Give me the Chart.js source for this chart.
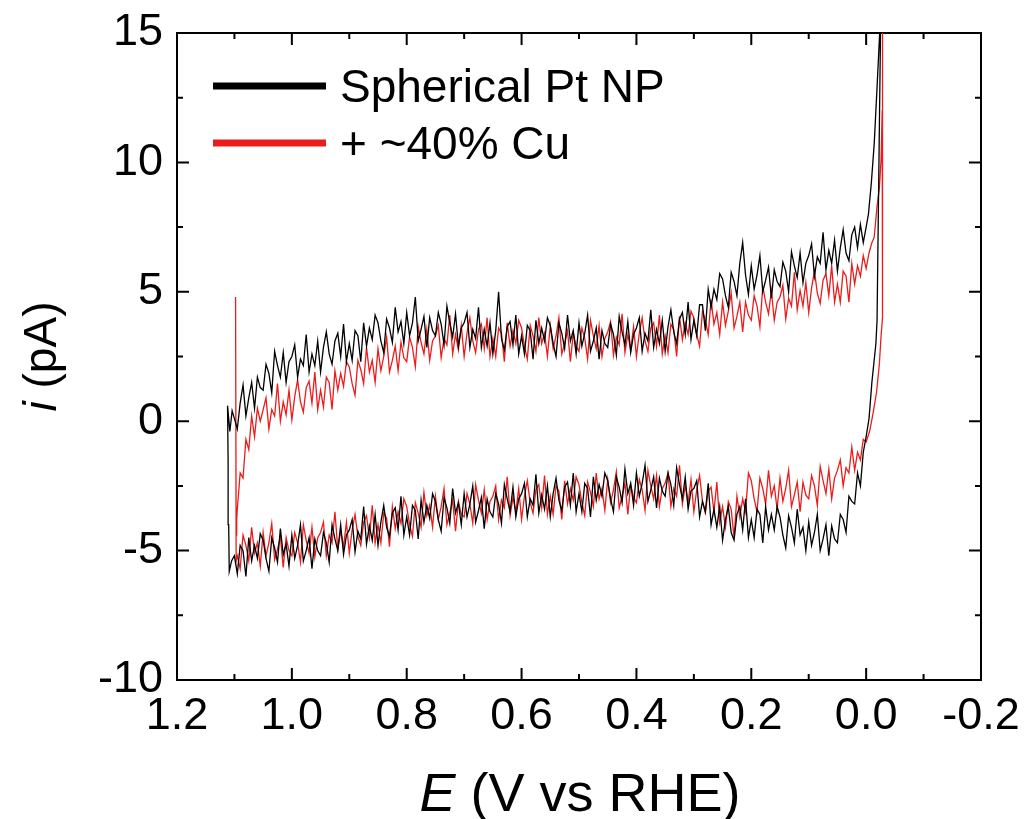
<!DOCTYPE html>
<html>
<head>
<meta charset="utf-8">
<script src="https://cdn.jsdelivr.net/npm/chart.js@4.4.0/dist/chart.umd.min.js"></script>
<style>
  html, body { margin: 0; padding: 0; background: #fff; }
  canvas { display: block; }
</style>
</head>
<body>
<canvas id="cvChart" width="1024" height="819"></canvas>
<script>
// potential grid (V vs RHE), shared by both sweeps
const potential = [
  1.100,1.095,1.090,1.085,1.080,1.075,1.070,1.065,1.060,1.055,
  1.050,1.045,1.040,1.035,1.030,1.025,1.020,1.015,1.010,1.005,
  1.000,0.995,0.990,0.985,0.980,0.975,0.970,0.965,0.960,0.955,
  0.950,0.945,0.940,0.935,0.930,0.925,0.920,0.915,0.910,0.905,
  0.900,0.895,0.890,0.885,0.880,0.875,0.870,0.865,0.860,0.855,
  0.850,0.845,0.840,0.835,0.830,0.825,0.820,0.815,0.810,0.805,
  0.800,0.795,0.790,0.785,0.780,0.775,0.770,0.765,0.760,0.755,
  0.750,0.745,0.740,0.735,0.730,0.725,0.720,0.715,0.710,0.705,
  0.700,0.695,0.690,0.685,0.680,0.675,0.670,0.665,0.660,0.655,
  0.650,0.645,0.640,0.635,0.630,0.625,0.620,0.615,0.610,0.605,
  0.600,0.595,0.590,0.585,0.580,0.575,0.570,0.565,0.560,0.555,
  0.550,0.545,0.540,0.535,0.530,0.525,0.520,0.515,0.510,0.505,
  0.500,0.495,0.490,0.485,0.480,0.475,0.470,0.465,0.460,0.455,
  0.450,0.445,0.440,0.435,0.430,0.425,0.420,0.415,0.410,0.405,
  0.400,0.395,0.390,0.385,0.380,0.375,0.370,0.365,0.360,0.355,
  0.350,0.345,0.340,0.335,0.330,0.325,0.320,0.315,0.310,0.305,
  0.300,0.295,0.290,0.285,0.280,0.275,0.270,0.265,0.260,0.255,
  0.250,0.245,0.240,0.235,0.230,0.225,0.220,0.215,0.210,0.205,
  0.200,0.195,0.190,0.185,0.180,0.175,0.170,0.165,0.160,0.155,
  0.150,0.145,0.140,0.135,0.130,0.125,0.120,0.115,0.110,0.105,
  0.100,0.095,0.090,0.085,0.080,0.075,0.070,0.065,0.060,0.055,
  0.050,0.045,0.040,0.035,0.030,0.025,0.020,0.015,0.010,0.005,0.000
];

// Spherical Pt NP, upper sweep (pA), same order as potential
const ptUpper = [
  0.1,-0.3,0.7,1.4,0.2,0.9,1.5,0.5,1.7,1.3,
  1.2,2.2,1.85,1.1,2.7,2.15,1.7,2.65,1.5,2.3,
  2.5,2.95,1.7,2.4,2.15,3.35,1.9,2.6,2.15,3.1,
  1.9,2.85,3.45,2.6,2.2,3.1,3.4,2.5,3.75,2.3,
  3.0,2.35,3.5,3.3,2.3,3.8,2.9,3.6,3.15,4.1,
  3.8,3.1,2.65,3.95,3.6,3.05,4.4,3.45,3.85,3.0,
  4.2,3.3,3.8,4.8,3.1,3.55,4.05,2.85,4.0,3.5,
  3.3,4.2,3.75,2.95,4.45,3.8,3.25,4.15,2.9,3.6,
  3.8,4.2,2.85,3.55,3.2,4.4,2.85,3.55,2.9,3.8,
  2.6,3.5,5.0,3.2,2.75,3.65,3.85,2.95,4.1,2.6,
  3.3,2.6,3.7,3.5,2.4,3.9,3.0,3.6,3.1,4.0,
  3.7,3.0,2.5,3.8,3.4,2.8,4.1,3.1,3.5,2.6,
  3.8,2.9,3.4,4.1,2.7,3.1,3.6,2.4,3.5,3.0,
  2.85,3.75,3.35,2.55,4.05,3.45,2.95,3.85,2.65,3.35,
  3.6,4.0,2.7,3.4,3.1,4.3,2.85,3.55,3.0,3.9,
  2.7,3.65,4.3,3.45,3.0,3.95,4.2,3.35,4.6,3.15,
  3.9,3.3,4.5,4.5,3.5,5.1,4.4,5.1,4.7,5.7,
  5.5,4.85,4.4,5.75,5.4,4.85,6.1,6.9,5.65,4.9,
  6.0,5.1,5.65,6.4,5.0,5.45,5.95,4.75,5.85,5.4,
  5.2,6.15,5.8,5.0,6.55,6.0,5.55,6.5,5.35,6.1,
  6.4,6.85,5.6,6.35,6.1,7.3,5.85,6.6,6.1,7.0,
  5.8,6.7,7.4,6.5,6.2,7.2,7.5,6.7,7.6,6.9,7.5
];

// Spherical Pt NP, lower sweep (pA), same order as potential
const ptLower = [
  -5.2,-5.9,-4.8,-5.0,-6.0,-4.5,-5.4,-4.8,-5.3,-4.35,
  -4.6,-5.3,-5.8,-4.5,-4.9,-5.45,-4.15,-5.15,-4.75,-5.6,
  -4.4,-5.3,-4.8,-4.0,-5.4,-5.0,-4.5,-5.7,-4.55,-5.0,
  -5.2,-4.3,-4.7,-5.45,-4.0,-4.55,-5.0,-4.0,-5.15,-4.4,
  -4.2,-3.8,-5.05,-4.25,-4.55,-3.3,-4.75,-4.05,-4.6,-3.6,
  -4.8,-3.9,-3.25,-4.1,-4.45,-3.55,-3.35,-4.2,-2.9,-4.4,
  -3.7,-4.4,-3.25,-3.45,-4.55,-3.05,-3.9,-3.25,-3.75,-2.8,
  -3.1,-3.8,-4.25,-2.95,-3.35,-3.95,-2.6,-3.55,-3.15,-4.0,
  -2.8,-3.7,-3.2,-2.5,-3.9,-3.45,-2.95,-4.15,-3.0,-3.5,
  -3.7,-2.8,-3.2,-3.95,-2.45,-3.0,-3.5,-2.55,-3.7,-3.0,
  -2.8,-2.4,-3.7,-3.0,-3.25,-2.05,-3.55,-2.85,-3.4,-2.5,
  -3.7,-2.8,-2.2,-3.05,-3.45,-2.55,-2.35,-3.25,-2.0,-3.5,
  -2.8,-3.5,-2.4,-2.6,-3.7,-2.15,-3.05,-2.45,-2.9,-2.0,
  -2.3,-3.0,-3.5,-2.15,-2.55,-3.15,-1.85,-2.8,-2.4,-3.25,
  -2.0,-2.9,-2.4,-1.7,-3.1,-2.65,-2.15,-3.35,-2.2,-2.7,
  -2.9,-2.0,-2.45,-3.25,-1.8,-2.45,-3.0,-2.15,-3.4,-2.7,
  -2.6,-2.3,-3.7,-3.1,-3.5,-2.4,-4.0,-3.4,-4.1,-3.3,
  -4.6,-3.8,-3.3,-4.3,-4.6,-3.6,-3.3,-4.2,-3.0,-4.5,
  -3.8,-4.5,-3.4,-3.6,-4.7,-3.3,-4.2,-3.6,-4.2,-3.3,
  -3.7,-4.4,-4.9,-3.65,-4.1,-4.7,-3.4,-4.4,-4.1,-5.0,
  -3.9,-4.8,-4.3,-3.6,-5.0,-4.55,-4.0,-5.2,-4.05,-4.55,
  -4.7,-3.6,-3.8,-4.3,-2.9,-3.1,-3.2,-2.0,-2.5,-1.2,-0.6
];

// + ~40% Cu, upper sweep (pA)
const cuUpper = [
  null,-3.4,-2.0,-2.2,-0.7,-1.1,0.2,-0.6,0.5,0.0,
  0.45,0.9,-0.3,0.45,0.2,1.45,0.0,0.75,0.25,1.2,
  0.05,0.95,1.6,0.75,0.35,1.3,1.55,0.7,1.9,0.45,
  1.2,0.55,1.7,1.5,0.45,1.95,1.2,1.85,1.35,2.3,
  2.1,1.45,1.0,2.35,2.0,1.45,2.85,1.9,2.35,1.5,
  2.8,1.95,2.5,3.25,1.9,2.35,2.9,1.95,3.05,2.45,
  2.3,3.25,2.85,2.1,3.65,3.05,2.6,3.55,2.35,3.1,
  3.3,3.7,2.45,3.2,2.95,4.1,2.6,3.35,2.75,3.7,
  2.5,3.4,4.0,3.1,2.65,3.55,3.75,2.8,4.0,2.5,
  3.2,2.5,3.6,3.4,2.3,3.8,2.9,3.5,3.0,3.9,
  3.6,2.9,2.4,3.7,3.3,2.7,4.0,3.0,3.4,2.5,
  3.7,2.8,3.3,4.0,2.6,3.0,3.5,2.3,3.4,2.9,
  2.7,3.6,3.2,2.4,3.9,3.3,2.8,3.7,2.5,3.2,
  3.45,3.85,2.55,3.25,2.95,4.15,2.65,3.35,2.75,3.65,
  2.5,3.4,4.0,3.1,2.7,3.6,3.8,2.9,4.1,2.6,
  3.3,2.65,3.75,3.55,2.5,4.05,3.15,3.8,3.35,4.25,
  4.0,3.35,2.9,4.25,3.9,3.35,4.7,3.75,4.2,3.35,
  4.6,3.7,4.25,4.95,3.6,4.05,4.6,3.45,4.6,4.1,
  3.9,4.85,4.45,3.65,5.2,4.6,4.15,5.05,3.9,4.6,
  4.8,5.25,3.95,4.75,4.45,5.75,4.3,5.05,4.45,5.35,
  4.2,5.15,5.8,4.95,4.55,5.45,5.7,4.85,6.0,4.6,
  5.3,4.6,5.8,5.6,4.6,6.1,5.3,6.0,5.6,6.4,5.9
];

// + ~40% Cu, lower sweep (pA)
const cuLower = [
  null,-5.2,-5.7,-4.4,-4.8,-5.4,-4.1,-5.1,-4.7,-5.6,
  -4.3,-5.2,-4.7,-3.95,-5.35,-4.95,-4.45,-5.65,-4.5,-5.0,
  -5.2,-4.3,-4.7,-5.45,-4.0,-4.6,-5.1,-4.1,-5.25,-4.5,
  -4.3,-3.9,-5.2,-4.4,-4.7,-3.5,-4.95,-4.25,-4.85,-3.9,
  -5.1,-4.2,-3.6,-4.45,-4.8,-3.9,-3.65,-4.5,-3.25,-4.7,
  -4.0,-4.7,-3.55,-3.75,-4.85,-3.3,-4.15,-3.5,-3.95,-3.0,
  -3.3,-4.0,-4.45,-3.15,-3.55,-4.1,-2.75,-3.65,-3.25,-4.1,
  -2.9,-3.8,-3.3,-2.6,-4.0,-3.55,-3.05,-4.25,-3.1,-3.6,
  -3.7,-2.8,-3.2,-3.95,-2.45,-3.05,-3.55,-2.65,-3.8,-3.1,
  -2.9,-2.5,-3.8,-3.05,-3.35,-2.15,-3.65,-2.95,-3.5,-2.6,
  -3.8,-2.9,-2.3,-3.15,-3.55,-2.65,-2.45,-3.35,-2.1,-3.6,
  -2.9,-3.6,-2.5,-2.7,-3.8,-2.3,-3.2,-2.6,-3.05,-2.15,
  -2.45,-3.15,-3.65,-2.35,-2.75,-3.3,-2.0,-3.0,-2.6,-3.45,
  -2.25,-3.15,-2.65,-1.95,-3.35,-2.9,-2.4,-3.6,-2.45,-2.95,
  -3.15,-2.25,-2.65,-3.45,-1.9,-2.5,-3.0,-2.1,-3.3,-2.6,
  -2.4,-2.0,-3.3,-2.6,-2.9,-1.7,-3.2,-2.5,-3.15,-2.25,
  -3.5,-2.65,-2.1,-3.1,-3.55,-2.7,-2.55,-3.5,-2.35,-3.9,
  -3.3,-4.1,-3.1,-3.4,-4.5,-2.9,-3.7,-3.0,-3.5,-2.0,
  -2.3,-3.0,-3.5,-2.2,-2.6,-3.2,-1.9,-2.9,-2.5,-3.4,
  -2.2,-3.1,-2.6,-1.9,-3.3,-2.85,-2.35,-3.5,-2.35,-2.85,
  -3.0,-2.1,-2.5,-3.25,-1.75,-2.3,-2.8,-1.85,-3.0,-2.2,
  -1.9,-1.5,-2.5,-1.8,-2.0,-1.0,-1.9,-1.2,-1.5,-0.7,-0.8
];

// negative-end turn (hydrogen evolution spike) and high-potential turn
const ptTipE = [-0.004,-0.009,-0.014,-0.019,-0.024,-0.027,-0.025,-0.019,-0.017,-0.010,-0.005];
const ptTipI = [8.0,9.2,10.7,12.9,15.2,18.0,15.0,3.9,3.0,1.5,0.1];
const ptTurnE = [1.105,1.109,1.110,1.111,1.112,1.108,1.104];
const ptTurnI = [-5.4,-5.8,-4.0,-1.5,0.6,-0.4,0.4];

const cuTipE = [-0.005,-0.010,-0.014,-0.019,-0.023,-0.026,-0.028,-0.029,-0.028,-0.026,-0.023,-0.018,-0.012,-0.006];
const cuTipI = [6.5,6.9,7.1,8.3,9.0,10.1,12.0,18.0,4.0,3.3,2.2,1.1,0.3,-0.4];
const cuTurnE = [1.097,1.098,1.097,1.096];
const cuTurnI = [-5.4,4.8,-4.4,-3.8];

const seriesNames = ["Spherical Pt NP", "+ ~40% Cu"];
const seriesColors = ["#000000", "rgb(236,28,28)"];
const xTicks = [1.2, 1.0, 0.8, 0.6, 0.4, 0.2, 0.0, -0.2];
const yTicks = [-10, -5, 0, 5, 10, 15];

function buildLoop(upper, lower, tipE, tipI, turnE, turnI) {
  const pts = [];
  potential.forEach((e, i) => { if (upper[i] !== null) pts.push({ x: e, y: upper[i] }); });
  tipE.forEach((e, i) => pts.push({ x: e, y: tipI[i] }));
  for (let i = potential.length - 1; i >= 0; i--) {
    if (lower[i] !== null) pts.push({ x: potential[i], y: lower[i] });
  }
  turnE.forEach((e, i) => pts.push({ x: e, y: turnI[i] }));
  pts.push(pts[0]);
  return pts;
}

const FONT = "'Liberation Sans', Arial, Helvetica, sans-serif";

// inward ticks on all four sides, legend and axis titles
const decorations = {
  id: "decorations",
  afterDraw(chart) {
    const { ctx, chartArea: a, scales } = chart;
    const x = scales.x, y = scales.y;
    ctx.save();
    ctx.strokeStyle = "#000";
    ctx.lineWidth = 2;
    ctx.beginPath();
    const xs = x.ticks.map(t => t.value);
    xs.forEach((v, i) => {
      const px = x.getPixelForValue(v);
      ctx.moveTo(px, a.bottom); ctx.lineTo(px, a.bottom - 12);
      ctx.moveTo(px, a.top); ctx.lineTo(px, a.top + 12);
      if (i < xs.length - 1) {
        const mx = x.getPixelForValue((v + xs[i + 1]) / 2);
        ctx.moveTo(mx, a.bottom); ctx.lineTo(mx, a.bottom - 6);
        ctx.moveTo(mx, a.top); ctx.lineTo(mx, a.top + 6);
      }
    });
    const ys = y.ticks.map(t => t.value);
    ys.forEach((v, i) => {
      const py = y.getPixelForValue(v);
      ctx.moveTo(a.left, py); ctx.lineTo(a.left + 12, py);
      ctx.moveTo(a.right, py); ctx.lineTo(a.right - 12, py);
      if (i < ys.length - 1) {
        const my = y.getPixelForValue((v + ys[i + 1]) / 2);
        ctx.moveTo(a.left, my); ctx.lineTo(a.left + 6, my);
        ctx.moveTo(a.right, my); ctx.lineTo(a.right - 6, my);
      }
    });
    ctx.stroke();

    // legend
    ctx.font = "46px " + FONT;
    ctx.textBaseline = "alphabetic";
    ctx.textAlign = "left";
    chart.data.datasets.forEach((ds, i) => {
      const ly = 86 + i * 57;
      ctx.strokeStyle = ds.borderColor;
      ctx.lineWidth = 7;
      ctx.beginPath();
      ctx.moveTo(213, ly); ctx.lineTo(326, ly);
      ctx.stroke();
      ctx.fillStyle = "#000";
      ctx.fillText(ds.label, 340, ly + 16);
    });

    // x title: italic E + (V vs RHE)
    ctx.fillStyle = "#000";
    ctx.font = "italic 54px " + FONT;
    const e1 = "E";
    const w1 = ctx.measureText(e1).width;
    ctx.font = "54px " + FONT;
    const e2 = " (V vs RHE)";
    const w2 = ctx.measureText(e2).width;
    const sx = 580 - (w1 + w2) / 2;
    ctx.font = "italic 54px " + FONT;
    ctx.fillText(e1, sx, 811);
    ctx.font = "54px " + FONT;
    ctx.fillText(e2, sx + w1, 811);

    // y title: italic i + (pA)
    ctx.translate(56, (a.top + a.bottom) / 2);
    ctx.rotate(-Math.PI / 2);
    ctx.font = "italic 46px " + FONT;
    const t1 = "i";
    const v1 = ctx.measureText(t1).width;
    ctx.font = "46px " + FONT;
    const t2 = " (pA)";
    const v2 = ctx.measureText(t2).width;
    const sy = -(v1 + v2) / 2;
    ctx.font = "italic 46px " + FONT;
    ctx.fillText(t1, sy, 0);
    ctx.font = "46px " + FONT;
    ctx.fillText(t2, sy + v1, 0);
    ctx.restore();
  }
};

const axisBorder = { display: true, color: "#000", width: 2 };

new Chart(document.getElementById("cvChart"), {
  type: "scatter",
  data: {
    datasets: [
      {
        label: seriesNames[0],
        data: buildLoop(ptUpper, ptLower, ptTipE, ptTipI, ptTurnE, ptTurnI),
        borderColor: seriesColors[0],
        borderWidth: 1.3,
        showLine: true,
        pointRadius: 0,
        tension: 0
      },
      {
        label: seriesNames[1],
        data: buildLoop(cuUpper, cuLower, cuTipE, cuTipI, cuTurnE, cuTurnI),
        borderColor: seriesColors[1],
        borderWidth: 1.3,
        showLine: true,
        pointRadius: 0,
        tension: 0
      }
    ]
  },
  options: {
    responsive: false,
    animation: false,
    events: [],
    layout: { padding: 0 },
    plugins: { legend: { display: false }, tooltip: { enabled: false } },
    scales: {
      x: {
        type: "linear",
        position: "bottom",
        reverse: true,
        min: -0.2,
        max: 1.2,
        afterBuildTicks: s => { s.ticks = xTicks.map(v => ({ value: v })); },
        afterFit: s => { s.height = 139; s.paddingLeft = 0; s.paddingRight = 0; },
        grid: { display: false, drawTicks: false },
        border: axisBorder,
        ticks: {
          padding: 10,
          maxRotation: 0,
          autoSkip: false,
          color: "#000",
          font: { family: FONT, size: 45 },
          callback: v => v.toFixed(1)
        }
      },
      xTop: {
        type: "linear",
        position: "top",
        reverse: true,
        min: -0.2,
        max: 1.2,
        afterFit: s => { s.height = 33; s.paddingLeft = 0; s.paddingRight = 0; },
        grid: { display: false, drawTicks: false },
        border: axisBorder,
        ticks: { display: false }
      },
      y: {
        type: "linear",
        position: "left",
        min: -10,
        max: 15,
        afterBuildTicks: s => { s.ticks = yTicks.map(v => ({ value: v })); },
        afterFit: s => { s.width = 177; s.paddingTop = 0; s.paddingBottom = 0; },
        grid: { display: false, drawTicks: false },
        border: axisBorder,
        ticks: {
          padding: 14,
          autoSkip: false,
          color: "#000",
          font: { family: FONT, size: 45 },
          callback: v => String(v)
        }
      },
      yRight: {
        type: "linear",
        position: "right",
        min: -10,
        max: 15,
        afterFit: s => { s.width = 43; s.paddingTop = 0; s.paddingBottom = 0; },
        grid: { display: false, drawTicks: false },
        border: axisBorder,
        ticks: { display: false }
      }
    }
  },
  plugins: [decorations]
});
</script>
</body>
</html>
